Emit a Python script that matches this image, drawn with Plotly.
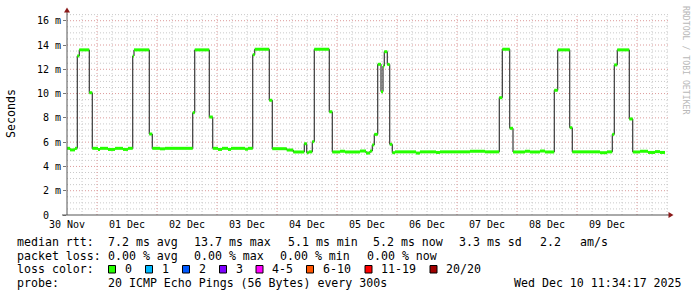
import plotly.graph_objects as go

# ---- data (hours since 30 Nov 00:00, median rtt in ms) ----
step_hours = [0, 1.2, 3.2, 4.1, 4.9, 8.9, 10.1, 12.4, 13.2, 16.4, 19.2, 22.4, 24.4,
              26.3, 26.8, 32.9, 34.1, 37.2, 39.2, 50.3, 51.1, 56.9, 58.3, 60.4, 62.0,
              64.4, 65.6, 71.2, 72.4, 74.3, 75.1, 80.9, 82.1, 87.9, 90.5, 94.9, 95.9,
              96.7, 98.1, 98.9, 104.9, 106.1, 109.2, 111.2, 117.2, 119.6, 121.2, 122.1,
              122.9, 124.3, 125.6, 126.4, 126.9, 128.1, 129.1, 130.1, 131.2, 139.6,
              141.2, 147.6, 149.2, 161.2, 167.2, 172.9, 174.1, 177.1, 178.4, 183.2,
              185.2, 189.2, 191.2, 194.9, 196.3, 201.1, 202.1, 213.2, 216.0, 218.1,
              218.9, 220.1, 224.9, 226.3, 229.2, 232.4, 235.2, 237.2]
median_ms = [5.49, 5.36, 5.49, 13.1, 13.6, 10.07, 5.49, 5.4, 5.49, 5.4, 5.49, 5.4, 5.49,
             13.1, 13.6, 6.67, 5.49, 5.45, 5.49, 8.43, 13.6, 8.07, 5.49, 5.4, 5.49,
             5.4, 5.49, 5.42, 5.49, 13.2, 13.65, 9.45, 5.46, 5.35, 5.19, 5.87, 5.13,
             5.2, 6.04, 13.65, 8.5, 5.19, 5.25, 5.19, 5.27, 5.1, 5.27, 5.77,
             6.64, 12.41, 10.16, 12.27, 13.45, 12.4, 5.82, 5.13, 5.2, 5.1,
             5.2, 5.15, 5.2, 5.25, 5.2, 9.66, 13.65, 7.14, 5.19, 5.25,
             5.19, 5.27, 5.19, 10.27, 13.6, 7.19, 5.2, 5.13, 5.2, 6.64,
             12.36, 13.6, 7.91, 5.19, 5.25, 5.15, 5.22, 5.15]
end_hour = 239.2

day_tick_hours = [0, 24, 48, 72, 96, 120, 144, 168, 192, 216]
day_tick_labels = ["30 Nov", "01 Dec", "02 Dec", "03 Dec", "04 Dec", "05 Dec",
                   "06 Dec", "07 Dec", "08 Dec", "09 Dec"]
y_tick_vals = [0, 2, 4, 6, 8, 10, 12, 14, 16]
y_tick_labels = ["0\u00a0\u00a0", "2\u00a0m", "4\u00a0m", "6\u00a0m", "8\u00a0m",
                 "10\u00a0m", "12\u00a0m", "14\u00a0m", "16\u00a0m"]

loss_labels = ["0", "1", "2", "3", "4-5", "6-10", "11-19", "20/20"]
loss_colors = ["#26ff00", "#00b8ff", "#0059ff", "#7e00ff", "#ff00ff", "#ff5500",
               "#ff0000", "#a10000"]

# ---- geometry ----
W, H = 697, 297
L, R, T, B = 67, 28, 14, 82
PW = W - L - R
PH = H - T - B
X_MAX = PW / 2.5
Y_MAX = PH / 12.143


def px(x):
    return (x - L) / PW


def py(y):
    return (T + PH - y) / PH


FONT = "DejaVu Sans Mono"
fig = go.Figure()

# black median step line
bx = list(step_hours) + [end_hour]
by = list(median_ms) + [median_ms[-1]]
fig.add_trace(go.Scatter(x=bx, y=by, mode="lines", line=dict(color="#111111", width=1, shape="hv"),
                         hoverinfo="skip", showlegend=False))

# green horizontal segments (loss colour 0)
gx, gy = [], []
for i, (h, v) in enumerate(zip(step_hours, median_ms)):
    h2 = step_hours[i + 1] if i + 1 < len(step_hours) else end_hour
    gx += [h, h2, None]
    gy += [v, v, None]
fig.add_trace(go.Scatter(x=gx, y=gy, mode="lines", line=dict(color=loss_colors[0], width=3),
                         hoverinfo="skip", showlegend=False))

MAJOR = "#dc9a9a"
MINOR = "#c9c9c9"
shapes = []
# horizontal grid
for k in range(1, 34):
    v = k * 0.5
    major = (k % 4 == 0)
    shapes.append(dict(type="line", xref="paper", yref="y", x0=0, x1=1, y0=v, y1=v, layer="below",
                       line=dict(color=MAJOR if major else MINOR, width=1, dash="1px,2px")))
# vertical grid
for k in range(1, 41):
    h = k * 6
    major = (h % 24 == 12)
    shapes.append(dict(type="line", xref="x", yref="paper", x0=h, x1=h, y0=0, y1=1, layer="below",
                       line=dict(color=MAJOR if major else MINOR, width=1, dash="1px,2px")))
# axes
shapes.append(dict(type="line", xref="paper", yref="paper", x0=px(67), x1=px(67), y0=py(215), y1=py(10),
                   line=dict(color="#555555", width=1)))
shapes.append(dict(type="line", xref="paper", yref="paper", x0=px(62), x1=px(670), y0=py(215), y1=py(215),
                   line=dict(color="#555555", width=1)))
# arrows
shapes.append(dict(type="path", xref="paper", yref="paper",
                   path=f"M {px(64)} {py(12.5)} L {px(70)} {py(12.5)} L {px(67)} {py(7.5)} Z",
                   fillcolor="#8b1a1a", line=dict(color="#8b1a1a", width=0)))
shapes.append(dict(type="path", xref="paper", yref="paper",
                   path=f"M {px(668.5)} {py(212)} L {px(668.5)} {py(218)} L {px(673.5)} {py(215)} Z",
                   fillcolor="#8b1a1a", line=dict(color="#8b1a1a", width=0)))

annotations = []


def txt(x, y, s, size=11.6, color="#000000", angle=0, xanchor="left"):
    annotations.append(dict(x=px(x), y=py(y), xref="paper", yref="paper", text=s, showarrow=False,
                            xanchor=xanchor, yanchor="middle", textangle=angle,
                            font=dict(family=FONT, size=size, color=color)))


nb = lambda s: s.replace(" ", "\u00a0")

# legend lines
line1 = [(15, "median rtt:"), (106.3, "7.2 ms avg"), (192.3, "13.7 ms max"), (285.7, "5.1 ms min"),
         (371.3, "5.2 ms now"), (457.3, "3.3 ms sd"), (538, "2.2"), (578, "am/s")]
line2 = [(15, "packet loss:"), (106.3, "0.00 % avg"), (192.3, "0.00 % max"), (278.3, "0.00 % min"),
         (364.7, "0.00 % now")]
line4 = [(15, "probe:"), (106.3, "20 ICMP Echo Pings (56 Bytes) every 300s"),
         (512.3, "Wed Dec 10 11:34:17 2025")]
for x, s in line1:
    txt(x, 241.5, nb(s))
for x, s in line2:
    txt(x, 255.5, nb(s))
for x, s in line4:
    txt(x, 283.3, nb(s))
txt(15, 269.3, nb("loss color:"))
box_x = [108.5, 145.5, 182.5, 219.5, 256, 306.5, 365, 430]
for bxp, lab, col in zip(box_x, loss_labels, loss_colors):
    shapes.append(dict(type="rect", xref="paper", yref="paper", x0=px(bxp), x1=px(bxp + 7),
                       y0=py(273), y1=py(265.5), fillcolor=col, line=dict(color="#000000", width=1)))
    txt(bxp + 14, 269.3, nb(lab))

# axis title and watermark
txt(11, 114, "Seconds", angle=-90, xanchor="center")
txt(686, 60, nb("RRDTOOL / TOBI OETIKER"), size=8.2, color="#b8b8b8", angle=90, xanchor="center")

fig.update_layout(
    width=W, height=H, autosize=False,
    margin=dict(l=L, r=R, t=T, b=B, pad=0),
    paper_bgcolor="#ffffff", plot_bgcolor="#ffffff",
    shapes=shapes, annotations=annotations,
    showlegend=False,
    xaxis=dict(range=[0, X_MAX], showgrid=False, zeroline=False, showline=False,
               tickmode="array", tickvals=day_tick_hours, ticktext=day_tick_labels,
               ticks="", ticklabelstandoff=2,
               tickfont=dict(family=FONT, size=10, color="#000000"), fixedrange=True),
    yaxis=dict(range=[0, Y_MAX], showgrid=False, zeroline=False, showline=False,
               tickmode="array", tickvals=y_tick_vals, ticktext=y_tick_labels,
               ticks="outside", ticklen=3, tickcolor="#777777",
               tickfont=dict(family=FONT, size=10, color="#000000"), fixedrange=True),
)

fig.write_html("out.html")
